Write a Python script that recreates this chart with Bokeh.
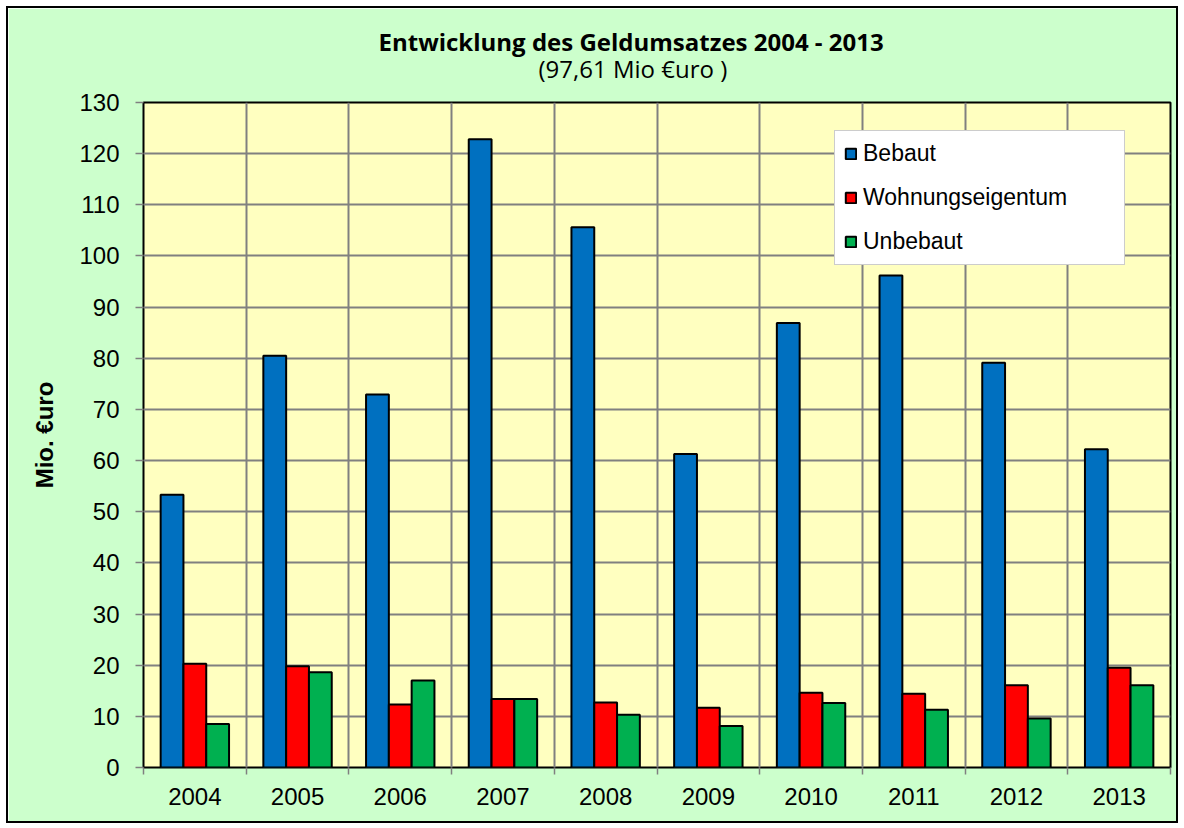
from bokeh.plotting import figure
from bokeh.models import (ColumnDataSource, FixedTicker, Legend, LegendItem,
                          Title, Range1d)
from bokeh.transform import dodge
from bokeh.embed import file_html
from bokeh.resources import INLINE

# ---- data ----
years = ["2004", "2005", "2006", "2007", "2008", "2009", "2010", "2011", "2012", "2013"]
bebaut = [53.3, 80.5, 72.9, 122.8, 105.6, 61.3, 86.9, 96.2, 79.1, 62.2]
wohnungseigentum = [20.3, 19.8, 12.3, 13.4, 12.7, 11.7, 14.6, 14.4, 16.1, 19.5]
unbebaut = [8.5, 18.6, 17.0, 13.4, 10.3, 8.1, 12.6, 11.3, 9.6, 16.1]
series_names = ["Bebaut", "Wohnungseigentum", "Unbebaut"]
series_colors = ["#0070C0", "#FF0000", "#00B050"]
y_ticks = list(range(0, 131, 10))
title_text = "Entwicklung des Geldumsatzes 2004 - 2013"
subtitle_text = "(97,61 Mio €uro )"
y_label = "Mio. €uro"

n = len(years)
centers = [i + 0.5 for i in range(n)]
bounds = [float(i) for i in range(n + 1)]

src = ColumnDataSource(dict(x=centers, year=years, bebaut=bebaut,
                            wohnung=wohnungseigentum, unbebaut=unbebaut))

p = figure(output_backend="svg", toolbar_location=None,
           x_range=Range1d(0, n), y_range=Range1d(0, 130),
           frame_width=1027, frame_height=665,
           min_border_left=135, min_border_right=6,
           min_border_top=94, min_border_bottom=54)
p.styles = {"border": "2px solid black", "margin-left": "6px", "margin-top": "6px"}
p.background_fill_color = "#FFFFC0"
p.border_fill_color = "#CCFFCC"
p.outline_line_color = "black"
p.outline_line_width = 2

bw = 0.222
cols = ["bebaut", "wohnung", "unbebaut"]
offsets = [-bw, 0.0, bw]
renderers = []
for col, off, c in zip(cols, offsets, series_colors):
    r = p.vbar(x=dodge("x", off, range=p.x_range), top=col, width=bw, bottom=0,
               source=src, fill_color=c, line_color="black", line_width=2)
    renderers.append(r)

# grid
p.xgrid.ticker = FixedTicker(ticks=bounds)
p.ygrid.ticker = FixedTicker(ticks=y_ticks)
for g in (p.xgrid, p.ygrid):
    g.grid_line_color = "#808080"
    g.grid_line_width = 2

# x axis
xa = p.xaxis[0]
xa.ticker = FixedTicker(ticks=centers, minor_ticks=bounds)
xa.major_label_overrides = {c: y for c, y in zip(centers, years)}
xa.major_tick_out = 0
xa.major_tick_in = 0
xa.minor_tick_out = 7
xa.minor_tick_in = 0
xa.minor_tick_line_color = "#808080"
xa.minor_tick_line_width = 1.5
xa.axis_line_color = None
xa.major_label_text_font = "Liberation Sans"
xa.major_label_text_font_size = "24px"
xa.major_label_text_color = "black"
xa.major_label_standoff = 13

# y axis
ya = p.yaxis[0]
ya.ticker = FixedTicker(ticks=y_ticks)
ya.major_tick_out = 8
ya.major_tick_in = 0
ya.major_tick_line_color = "#808080"
ya.major_tick_line_width = 1.5
ya.minor_tick_line_color = None
ya.axis_line_color = None
ya.major_label_text_font = "Liberation Sans"
ya.major_label_text_font_size = "24px"
ya.major_label_text_color = "black"
ya.major_label_standoff = 16
ya.axis_label = y_label
ya.axis_label_text_font = "Liberation Sans"
ya.axis_label_text_font_style = "bold"
ya.axis_label_text_font_size = "24px"
ya.axis_label_text_color = "black"
ya.axis_label_standoff = 18

# subtitle (nearest the frame) and title
p.add_layout(Title(text=subtitle_text, align="left", offset=395, standoff=36,
                   text_font="Open Sans", text_font_style="normal",
                   text_font_size="24px", text_color="black"), "above")
p.add_layout(Title(text=title_text, align="left", offset=235, standoff=-52,
                   text_font="Open Sans", text_font_style="bold",
                   text_font_size="24px", text_color="black"), "above")

# legend
legend = Legend(items=[LegendItem(label=nm, renderers=[r])
                       for nm, r in zip(series_names, renderers)],
                location=(691, 502), orientation="vertical",
                background_fill_color="white", background_fill_alpha=1.0,
                border_line_color="#999999", border_line_width=1,
                label_text_font="Liberation Sans", label_text_font_size="23px",
                label_text_color="black",
                glyph_width=13, glyph_height=13, label_standoff=6,
                label_width=252, label_height=20,
                spacing=17, padding=9, margin=0)
p.add_layout(legend)

open("out.html", "w").write(file_html(p, INLINE))
